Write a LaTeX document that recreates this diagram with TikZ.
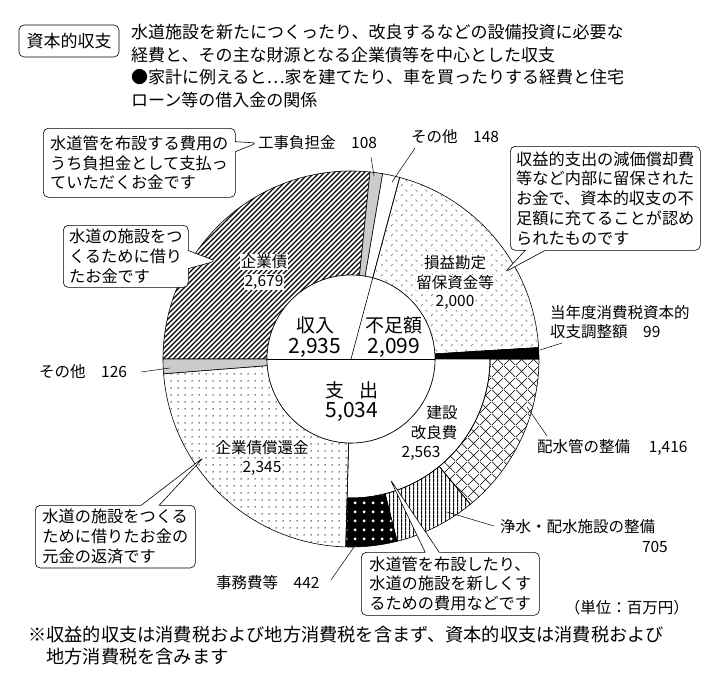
\documentclass[tikz,border=0pt]{standalone}
\usepackage{fontspec}
\setmainfont{Noto Sans CJK JP}
\usetikzlibrary{patterns,shapes.callouts}
\pgfdeclarepatternformonly{myhatch}{\pgfqpoint{-1pt}{-1pt}}{\pgfqpoint{6pt}{6pt}}{\pgfqpoint{5pt}{5pt}}{\pgfsetlinewidth{1.1pt}\pgfpathmoveto{\pgfqpoint{0pt}{0pt}}\pgfpathlineto{\pgfqpoint{5.1pt}{5.1pt}}\pgfusepath{stroke}}
\pgfdeclarepatternformonly{mydash}{\pgfqpoint{0pt}{0pt}}{\pgfqpoint{10pt}{10pt}}{\pgfqpoint{10pt}{10pt}}{\pgfsetlinewidth{0.6pt}\pgfpathmoveto{\pgfqpoint{1pt}{1pt}}\pgfpathlineto{\pgfqpoint{3pt}{3pt}}\pgfpathmoveto{\pgfqpoint{6pt}{8pt}}\pgfpathlineto{\pgfqpoint{8pt}{6pt}}\pgfusepath{stroke}}
\pgfdeclarepatternformonly{mycross}{\pgfqpoint{0pt}{0pt}}{\pgfqpoint{12pt}{12pt}}{\pgfqpoint{12pt}{12pt}}{\pgfsetlinewidth{0.6pt}\pgfpathmoveto{\pgfqpoint{0pt}{0pt}}\pgfpathlineto{\pgfqpoint{12pt}{12pt}}\pgfpathmoveto{\pgfqpoint{0pt}{12pt}}\pgfpathlineto{\pgfqpoint{12pt}{0pt}}\pgfusepath{stroke}}
\pgfdeclarepatternformonly{myvert}{\pgfqpoint{0pt}{0pt}}{\pgfqpoint{4pt}{4pt}}{\pgfqpoint{4pt}{4pt}}{\pgfsetlinewidth{1.3pt}\pgfpathmoveto{\pgfqpoint{2pt}{-0.5pt}}\pgfpathlineto{\pgfqpoint{2pt}{4.5pt}}\pgfusepath{stroke}}
\pgfdeclarepatternformonly{mydots}{\pgfqpoint{0pt}{0pt}}{\pgfqpoint{7pt}{7pt}}{\pgfqpoint{7pt}{7pt}}{\pgfpathcircle{\pgfqpoint{3.5pt}{3.5pt}}{0.8pt}\pgfusepath{fill}}
\pgfdeclarepatternformonly{mybigdots}{\pgfqpoint{0pt}{0pt}}{\pgfqpoint{9pt}{9pt}}{\pgfqpoint{9pt}{9pt}}{\pgfpathcircle{\pgfqpoint{4.5pt}{4.5pt}}{1.7pt}\pgfusepath{fill}}
\begin{document}
\begin{tikzpicture}[x=1pt,y=-1pt,
  lbl/.style={font=\fontsize{15.5}{19.5}\selectfont, align=center, inner sep=1pt},
  big/.style={font=\fontsize{19}{23}\selectfont, align=center, inner sep=1pt},
  co/.style={rectangle callout, draw, rounded corners=5pt, fill=white, align=left,
    font=\fontsize{16.2}{19.8}\selectfont, inner sep=4pt, line width=0.6pt},
  seg/.style={draw, line width=0.6pt},
  lead/.style={line width=0.5pt}]
\useasboundingbox (0,0) rectangle (703,677);
\fill[white] (0,0) rectangle (703,677);
% header
\node[draw, rounded corners=5pt, line width=0.6pt, font=\fontsize{17}{20}\selectfont, inner sep=3pt, minimum width=100pt, minimum height=32pt] (title) at (69,41) {資本的収支};
\node[anchor=north west, align=left, font=\fontsize{17}{22.7}\selectfont, inner sep=0pt] (head) at (131,24)
 {水道施設を新たにつくったり、改良するなどの設備投資に必要な\\経費と、その主な財源となる企業債等を中心とした収支\\●家計に例えると…家を建てたり、車を買ったりする経費と住宅\\ローン等の借入金の関係};
% donut
\begin{scope}[shift={(351,359)}]
 \coordinate (C) at (0,0);
 \path[seg, pattern=myhatch] (-180:188) arc[start angle=-180,end angle=-84.2,radius=188] -- (-84.2:84) arc[start angle=-84.2,end angle=-180,radius=84] -- cycle;
 \path[seg, fill=black!20] (-84.2:188) arc[start angle=-84.2,end angle=-80.3,radius=188] -- (-80.3:84) arc[start angle=-80.3,end angle=-84.2,radius=84] -- cycle;
 \path[seg, fill=white] (-80.3:188) arc[start angle=-80.3,end angle=-75,radius=188] -- (-75:84) arc[start angle=-75,end angle=-80.3,radius=84] -- cycle;
 \path[seg, pattern=mydash, pattern color=black!60] (-75:188) arc[start angle=-75,end angle=-3.5,radius=188] -- (-3.5:84) arc[start angle=-3.5,end angle=-75,radius=84] -- cycle;
 \path[seg, fill=black] (-3.5:188) arc[start angle=-3.5,end angle=0,radius=188] -- (0:84) arc[start angle=0,end angle=-3.5,radius=84] -- cycle;
 % lower
 \path[seg, fill=white] (0:139) arc[start angle=0,end angle=91.6,radius=139] -- (91.6:84) arc[start angle=91.6,end angle=0,radius=84] -- cycle;
 \path[seg, pattern=mycross] (0:188) arc[start angle=0,end angle=50.6,radius=188] -- (50.6:139) arc[start angle=50.6,end angle=0,radius=139] -- cycle;
 \path[seg, pattern=myvert] (50.6:188) arc[start angle=50.6,end angle=75.8,radius=188] -- (75.8:139) arc[start angle=75.8,end angle=50.6,radius=139] -- cycle;
 \path[fill=black] (75.8:188) arc[start angle=75.8,end angle=91.6,radius=188] -- (91.6:139) arc[start angle=91.6,end angle=75.8,radius=139] -- cycle;
 \path[seg, pattern=mybigdots, pattern color=white] (75.8:188) arc[start angle=75.8,end angle=91.6,radius=188] -- (91.6:139) arc[start angle=91.6,end angle=75.8,radius=139] -- cycle;
 \path[seg, pattern=mydots] (91.6:188) arc[start angle=91.6,end angle=175.5,radius=188] -- (175.5:84) arc[start angle=175.5,end angle=91.6,radius=84] -- cycle;
 \path[seg, fill=black!20] (175.5:188) arc[start angle=175.5,end angle=180,radius=188] -- (180:84) arc[start angle=180,end angle=175.5,radius=84] -- cycle;
 \draw[seg, fill=white] (C) circle[radius=84];
 \draw[seg] (180:84) -- (0:84);
 \draw[seg] (C) -- (-75:84);
\end{scope}
% inner labels
\node[big] (inc) at (315,325) {収入};
\node[big, font=\fontsize{21}{24}\selectfont] (incv) at (315,348) {2,935};
\node[big] (sho) at (394,325) {不足額};
\node[big, font=\fontsize{21}{24}\selectfont] (shov) at (394,348) {2,099};
\node[big] (exp) at (352,390) {支\hspace{0.8em}出};
\node[big, font=\fontsize{21}{24}\selectfont] (expv) at (352,412) {5,034};
% segment labels
\node[lbl, fill=white, inner sep=0.5pt] (kig) at (264,262) {企業債};
\node[lbl, fill=white, inner sep=0.5pt] (kigv) at (264,282) {2,679};
\node[lbl, fill=white, inner sep=0.5pt] (son) at (455,263) {損益勘定};
\node[lbl, fill=white, inner sep=0.5pt] (sonb) at (455,283) {留保資金等};
\node[lbl, fill=white, inner sep=0.5pt] (sonv) at (455,302) {2,000};
\node[lbl] (ken) at (442,413) {建設};
\node[lbl] (kenb) at (434,433) {改良費};
\node[lbl] (kenv) at (421,453) {2,563};
\node[lbl, fill=white, inner sep=0.5pt] (sho2) at (262,448) {企業債償還金};
\node[lbl, fill=white, inner sep=0.5pt] (sho2v) at (262,468) {2,345};
% outer labels
\node[lbl, anchor=west] (kou) at (257,143) {工事負担金\hspace{1em}108};
\node[lbl, anchor=west] (oth1) at (410,137) {その他\hspace{1em}148};
\node[lbl, anchor=west, align=left] (tou) at (549,322) {当年度消費税資本的\\収支調整額\hspace{1em}99};
\node[lbl, anchor=west] (oth2) at (38,372) {その他\hspace{1em}126};
\node[lbl, anchor=west] (hai) at (536,447) {配水管の整備\hspace{1.2em}1,416};
\node[lbl, anchor=west] (jou) at (499,527) {浄水・配水施設の整備};
\node[lbl, anchor=east] (jouv) at (669,547) {705};
\node[lbl, anchor=west] (jim) at (215,583) {事務費等\hspace{1em}442};
\node[lbl, anchor=east] (unit) at (690,608) {（単位：百万円）};
% leaders
\coordinate (p1) at (374,176); \coordinate (q1) at (371,157);
\draw[lead] (q1) -- (p1);
\coordinate (p2) at (392,182); \coordinate (q2) at (415,148);
\draw[lead] (q2) -- (p2);
\coordinate (p3) at (540,350); \coordinate (q3) at (562,343);
\draw[lead] (p3) -- (q3);
\coordinate (p4) at (170,368); \coordinate (q4) at (141,372);
\draw[lead] (q4) -- (p4);
\coordinate (p5) at (527,407); \coordinate (q5) at (547,436);
\draw[lead] (p5) -- (q5);
\coordinate (p6) at (447,512); \coordinate (q6) at (494,526);
\draw[lead] (p6) -- (q6);
\coordinate (p7) at (354,547); \coordinate (q7) at (331,580);
\draw[lead] (p7) -- (q7);
% callouts
\node[co, callout absolute pointer={(257,143)}, callout pointer width=10pt, anchor=north west, minimum width=192pt, minimum height=69pt] (c1) at (43,128)
 {水道管を布設する費用の\\うち負担金として支払っ\\ていただくお金です};
\node[co, callout absolute pointer={(505,272)}, callout pointer width=20pt, anchor=north west, minimum width=190pt, minimum height=104pt] (c2) at (510,146)
 {収益的支出の減価償却費\\等など内部に留保された\\お金で、資本的収支の不\\足額に充てることが認め\\られたものです};
\node[co, callout absolute pointer={(216,261)}, callout pointer width=18pt, anchor=north west, minimum width=125pt, minimum height=62pt] (c3) at (63,225)
 {水道の施設をつ\\くるために借り\\たお金です};
\node[co, callout absolute pointer={(204,457)}, callout pointer width=18pt, anchor=north west, minimum width=160pt, minimum height=62pt] (c5) at (35,505)
 {水道の施設をつくる\\ために借りたお金の\\元金の返済です};
\node[co, callout absolute pointer={(390,479)}, callout pointer width=14pt, anchor=north west, minimum width=178pt, minimum height=63pt] (c4) at (361,552)
 {水道管を布設したり、\\水道の施設を新しくす\\るための費用などです};
% footnote
\node[anchor=west, align=left, font=\fontsize{18.2}{22}\selectfont, inner sep=0pt] (foot) at (28,646)
 {※収益的収支は消費税および地方消費税を含まず、資本的収支は消費税および\\\hspace{1em}地方消費税を含みます};
\end{tikzpicture}
\end{document}
